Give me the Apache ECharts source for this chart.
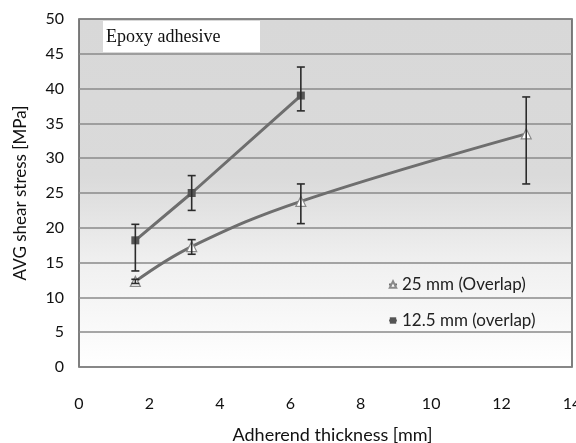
<!DOCTYPE html>
<html lang="en">
<head>
    <meta charset="UTF-8">
    <title>Epoxy adhesive</title>
    <script src="https://cdn.jsdelivr.net/npm/echarts@6/dist/echarts.min.js"></script>
</head>
<body style="margin: 0; background: #fff">
    <div id="main" style="width: 576px; height: 443px"></div>
    <script type="text/javascript">
        // 25 mm overlap (triangles)
        var thick25 = [1.6, 3.2, 6.3, 12.7];
        var stress25 = [12.3, 17.3, 23.8, 33.5];
        var low25 = [12.0, 16.2, 20.6, 26.3];
        var high25 = [12.6, 18.3, 26.3, 38.8];

        // 12.5 mm overlap (squares)
        var thick12 = [1.6, 3.2, 6.3];
        var stress12 = [18.2, 25.0, 39.0];
        var low12 = [13.8, 22.5, 36.8];
        var high12 = [20.5, 27.5, 43.1];

        var yTicks = [0, 5, 10, 15, 20, 25, 30, 35, 40, 45, 50];
        var xTicks = [0, 2, 4, 6, 8, 10, 12, 14];

        var chartDom = document.getElementById('main');
        var myChart = echarts.init(chartDom);

        function pairs(xs, ys) {
            return xs.map(function (x, i) { return [x, ys[i]]; });
        }
        function errData(xs, lo, hi) {
            return xs.map(function (x, i) { return [x, lo[i], hi[i]]; });
        }
        function renderErr(params, api) {
            var x = api.value(0);
            var lo = api.coord([x, api.value(1)]);
            var hi = api.coord([x, api.value(2)]);
            var w = 4;
            var st = { stroke: '#2b2b2b', lineWidth: 1.6 };
            return {
                type: 'group',
                children: [
                    { type: 'line', shape: { x1: lo[0], y1: lo[1], x2: hi[0], y2: hi[1] }, style: st },
                    { type: 'line', shape: { x1: lo[0] - w, y1: lo[1], x2: lo[0] + w, y2: lo[1] }, style: st },
                    { type: 'line', shape: { x1: hi[0] - w, y1: hi[1], x2: hi[0] + w, y2: hi[1] }, style: st }
                ]
            };
        }

        var option = {
            animation: false,
            textStyle: { fontFamily: 'Lato' },
            grid: {
                left: 79, right: 4, top: 19, bottom: 76,
                outerBoundsMode: 'none',
                containLabel: false,
                show: true,
                borderColor: '#555',
                borderWidth: 1.5,
                backgroundColor: {
                    type: 'linear', x: 0, y: 0, x2: 0, y2: 1,
                    colorStops: [
                        { offset: 0, color: '#d8d8d8' },
                        { offset: 0.45, color: '#dadada' },
                        { offset: 0.7, color: '#f0f0f0' },
                        { offset: 1, color: '#ffffff' }
                    ]
                }
            },
            graphic: [
                {
                    type: 'rect', left: 103, top: 21, z: 10,
                    shape: { width: 157, height: 31 },
                    style: { fill: '#fff' }
                },
                {
                    type: 'text', left: 106, top: 28, z: 11,
                    style: { text: 'Epoxy adhesive', fill: '#111', font: '18px "Liberation Serif"' }
                }
            ],
            legend: {
                orient: 'vertical',
                left: 383,
                top: 271,
                itemGap: 19,
                itemWidth: 8,
                itemHeight: 8,
                textStyle: { fontSize: 17, color: '#222', fontFamily: 'Lato' },
                data: ['25 mm (Overlap)', '12.5 mm (overlap)']
            },
            xAxis: {
                type: 'value',
                min: 0, max: 14, interval: 2,
                name: 'Adherend thickness [mm]',
                nameLocation: 'middle',
                nameGap: 59,
                nameTextStyle: { fontSize: 18, color: '#111', padding: [0, 0, 0, 14] },
                axisLine: { show: false },
                axisTick: { show: false },
                splitLine: { show: false },
                axisLabel: { fontSize: 16, color: '#111', margin: 29, alignMaxLabel: 'center' }
            },
            yAxis: {
                type: 'value',
                min: 0, max: 50, interval: 5,
                name: 'AVG shear stress [MPa]',
                nameLocation: 'middle',
                nameGap: 50,
                nameTextStyle: { fontSize: 17, color: '#111' },
                axisLine: { show: false },
                axisTick: { show: false },
                splitLine: { lineStyle: { color: '#8a8a8a', width: 1.5 } },
                axisLabel: { fontSize: 16, color: '#111', margin: 15 }
            },
            series: [
                {
                    name: '25 mm (Overlap)',
                    type: 'line',
                    smooth: 0.4,
                    data: pairs(thick25, stress25),
                    symbol: 'triangle',
                    symbolSize: 10,
                    lineStyle: { color: '#6e6e6e', width: 3 },
                    itemStyle: { color: '#fff', borderColor: '#8a8a8a', borderWidth: 1.2 },
                    z: 3
                },
                {
                    name: '12.5 mm (overlap)',
                    type: 'line',
                    data: pairs(thick12, stress12),
                    symbol: 'rect',
                    symbolSize: 8,
                    lineStyle: { color: '#6e6e6e', width: 3 },
                    itemStyle: { color: '#555', borderWidth: 0 },
                    z: 3
                },
                {
                    type: 'custom',
                    renderItem: renderErr,
                    data: errData(thick25, low25, high25),
                    encode: { x: 0, y: [1, 2] },
                    z: 4
                },
                {
                    type: 'custom',
                    renderItem: renderErr,
                    data: errData(thick12, low12, high12),
                    encode: { x: 0, y: [1, 2] },
                    z: 4
                }
            ]
        };

        myChart.setOption(option);
    </script>
</body>
</html>
